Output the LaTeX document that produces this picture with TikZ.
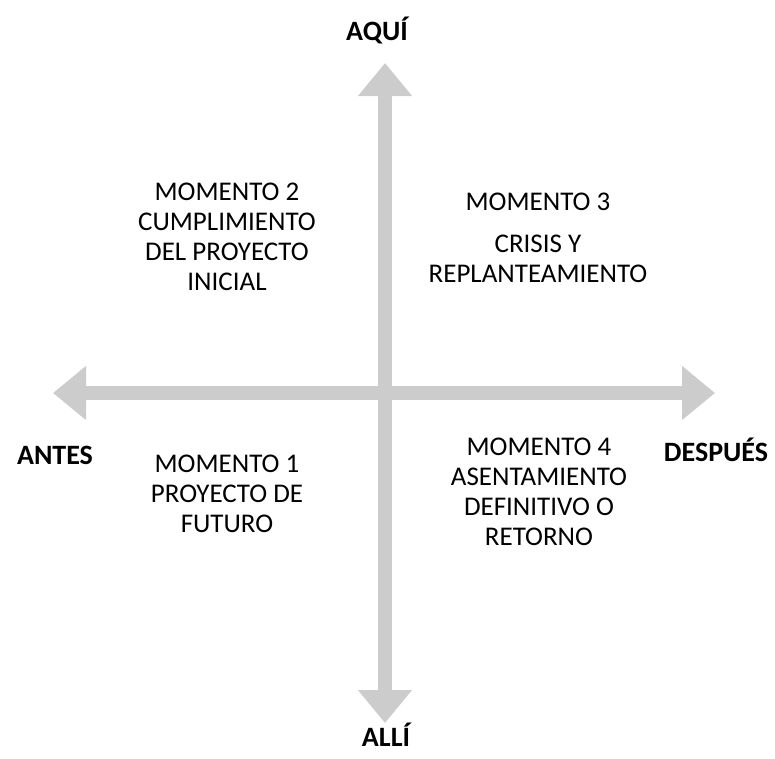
\documentclass[tikz,border=0pt]{standalone}
\usepackage{fontspec}
\setmainfont{Carlito}
\usetikzlibrary{arrows.meta}
\definecolor{axisgray}{RGB}{204,204,204}

\begin{document}
\begin{tikzpicture}[x=1pt,y=-1pt]
\useasboundingbox (0,0) rectangle (775,758);
\tikzstyle{axis}=[draw=axisgray, line width=14pt,
                  {Triangle[width=52pt,length=33pt]}-{Triangle[width=52pt,length=33pt]}]
\coordinate (w) at (53,393);
\coordinate (e) at (715,393);
\coordinate (n) at (385,63);
\coordinate (s) at (385,723);
\draw[axis] (w) -- (e);
\draw[axis] (s) -- (n);
\tikzstyle{every node}=[align=center, inner sep=0pt,
                        font=\fontsize{27}{30}\selectfont]
\tikzstyle{pole}=[anchor=base, font=\fontsize{28}{32}\selectfont\bfseries]
\node[pole] (aqui) at (377,40){AQUÍ};
\node[pole] (alli) at (386,746){ALLÍ};
\node[pole] (antes) at (55,464){ANTES};
\node[pole] (despues) at (716,461){DESPUÉS};
\node (m2) at (227,237){MOMENTO 2\\CUMPLIMIENTO\\DEL PROYECTO\\INICIAL};
\node (m3) at (538,202){MOMENTO 3};
\node (m3txt) at (538,259){CRISIS Y\\REPLANTEAMIENTO};
\node (m1) at (227,494){MOMENTO 1\\PROYECTO DE\\FUTURO};
\node (m4) at (539,492){MOMENTO 4\\ASENTAMIENTO\\DEFINITIVO O\\RETORNO};
\end{tikzpicture}
\end{document}
